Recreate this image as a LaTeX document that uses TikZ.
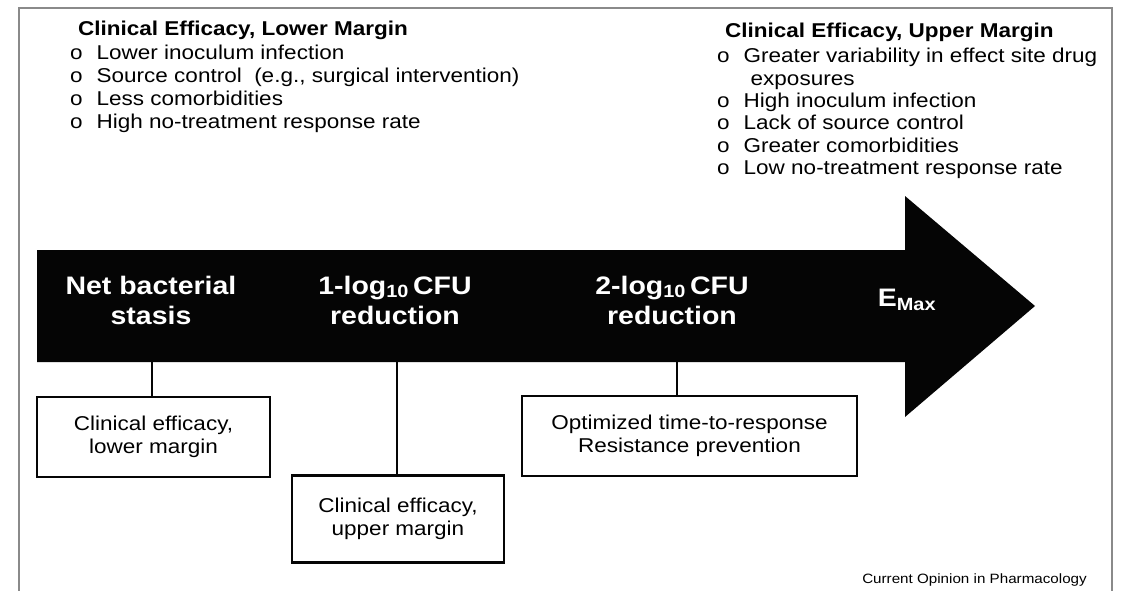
\documentclass[tikz,border=0pt]{standalone}
\usepackage{fontspec}
\setmainfont{Liberation Sans}[FakeStretch=1.125]
\usepackage{tikz}
\usetikzlibrary{positioning}
\definecolor{framegray}{HTML}{8A8A8A}
\definecolor{inkblack}{HTML}{050505}
\tikzset{
  headtext/.style={
    anchor=west, font=\fontsize{20}{23}\selectfont\bfseries,
    inner sep=0pt
  },
  listtext/.style={
    anchor=north west, font=\fontsize{20}{#1}\selectfont,
    align=left, inner sep=0pt
  },
  listtext/.default=23,
  stagelabel/.style={
    text=white, font=\fontsize{25.3}{30}\selectfont\bfseries,
    align=center, inner sep=0pt
  },
  outcomebox/.style={
    rectangle, draw=inkblack, line width=2.2pt,
    font=\fontsize{20}{23}\selectfont, align=center,
    inner sep=0pt
  },
  stemline/.style={
    draw=inkblack, line width=2.6pt
  },
}
\newcommand{\lst}[1]{%
  \begin{tabular}{@{}l@{\hspace{14pt}}l@{}}#1\end{tabular}}

\begin{document}
\begin{tikzpicture}[x=1pt,y=-1pt]
  \useasboundingbox (0,0) rectangle (1122,591);
  \fill[white] (0,0) rectangle (1122,591);

  % frame
  \draw[framegray, line width=2pt] (19,591) -- (19,8) -- (1112,8) -- (1112,591);

  % top lists
  \node[headtext] (lowhead) at (78,30) {Clinical Efficacy, Lower Margin};
  \node[listtext] (lowlist) at (70,43) {\lst{%
    o & Lower inoculum infection\\
    o & Source control\ \ (e.g., surgical intervention)\\
    o & Less comorbidities\\
    o & High no-treatment response rate}};

  \node[headtext] (uphead) at (725,32) {Clinical Efficacy, Upper Margin};
  \node[listtext=22.3] (uplist) at (717,47) {\lst{%
    o & Greater variability in effect site drug\\
      & \hspace{7pt}exposures\\
    o & High inoculum infection\\
    o & Lack of source control\\
    o & Greater comorbidities\\
    o & Low no-treatment response rate}};

  % big arrow
  \fill[inkblack] (37,250) -- (905,250) -- (905,196) -- (1035,306)
    -- (905,417) -- (905,362) -- (37,362) -- cycle;

  \node[stagelabel] (stasis) at (151,300) {Net bacterial\\stasis};
  \node[stagelabel] (onelog) at (395,300) {1-log\textsubscript{10}\,CFU\\reduction};
  \node[stagelabel] (twolog) at (672,300) {2-log\textsubscript{10}\,CFU\\reduction};
  \node[stagelabel] (emax) at (907,300) {E\textsubscript{Max}};

  \coordinate (s1) at (152,362);
  \coordinate (s2) at (397,362);
  \coordinate (s3) at (677,362);

  % outcome boxes
  \node[outcomebox, minimum width=233pt, minimum height=80pt]
    (lowbox) at (153.5,437) {Clinical efficacy,\\lower margin};
  \node[outcomebox, minimum width=212pt, minimum height=87pt]
    (upbox) at (398,519) {Clinical efficacy,\\upper margin};
  \node[outcomebox, minimum width=335pt, minimum height=80pt]
    (optbox) at (689.5,436) {Optimized time-to-response\\Resistance prevention};

  \draw[stemline] (s1) -- (s1 |- lowbox.north);
  \draw[stemline] (s2) -- (s2 |- upbox.north);
  \draw[stemline] (s3) -- (s3 |- optbox.north);

  \node[anchor=base east, font=\fontsize{13.5}{16}\selectfont, inner sep=0pt]
    (source) at (1087,583) {Current Opinion in Pharmacology};
\end{tikzpicture}
\end{document}
